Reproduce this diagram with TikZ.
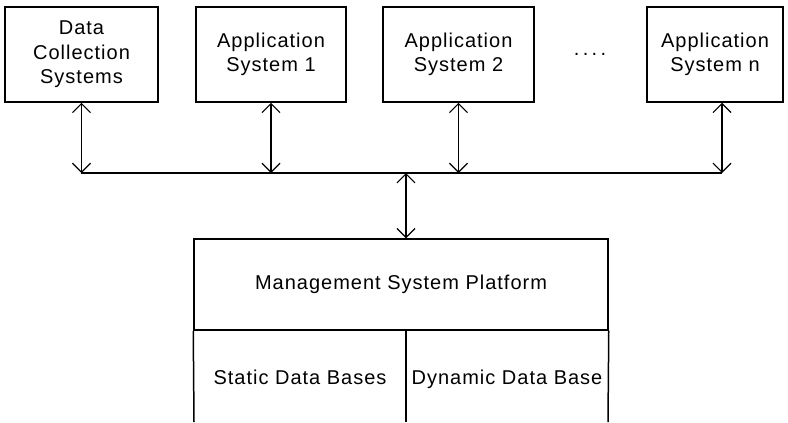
\documentclass[tikz,border=0pt]{standalone}
\usepackage{fontspec}
\setmainfont[LetterSpace=5]{Liberation Sans}
\usetikzlibrary{arrows.meta}
\tikzset{
  sysbox/.style={draw, line width=1.5bp, align=center, minimum height=95bp, inner sep=0pt},
  link/.style={line width=1.2bp, {Straight Barb[length=9bp,width=18bp]}-{Straight Barb[length=9bp,width=18bp]}},
  label/.style={align=center, inner sep=0pt, anchor=base}
}
\begin{document}
\begin{tikzpicture}[x=1bp,y=-1bp,font=\fontsize{20bp}{24.5bp}\selectfont]
  \useasboundingbox (0,0) rectangle (788,422);
  % upper systems
  \node[sysbox, minimum width=153bp] (dcs)  at (81.5,54.5)  {Data\\Collection\\Systems};
  \node[sysbox, minimum width=150bp] (app1) at (271,54.5)   {Application\\System 1};
  \node[sysbox, minimum width=151bp] (app2) at (458.5,54.5) {Application\\System 2};
  \node[sysbox, minimum width=136bp] (appn) at (715,54.5)   {Application\\System n};
  \node[label] (dots) at (590,55) {.\,.\,.\,.};
  % bus
  \coordinate (busL) at (81,173);
  \coordinate (busR) at (722,173);
  \coordinate (tap)  at (406,173);
  \draw[line width=1.5bp] (busL) -- (busR);
  \draw[link] (dcs.south) -- (dcs.south |- busL);
  \draw[link] (app1.south) -- (app1.south |- busL);
  \draw[link] (app2.south) -- (app2.south |- busL);
  \draw[link] (busR |- appn.south) -- (busR);
  % platform
  \node[sysbox, minimum width=414bp, minimum height=91bp] (mgmt) at (401,284.5) {Management System Platform};
  \draw[link] (tap) -- (tap |- mgmt.north);
  \draw[line width=1.5bp] (mgmt.south west) -- (194,422);
  \draw[line width=1.5bp] (mgmt.south -| tap) -- (406,422);
  \draw[line width=1.5bp] (mgmt.south east) -- (608,422);
  \node[label] (sdb) at (300,384) {Static Data Bases};
  \node[label] (ddb) at (507,384) {Dynamic Data Base};
\end{tikzpicture}
\end{document}
